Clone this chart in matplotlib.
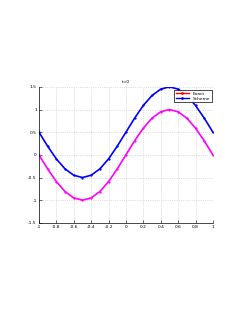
import matplotlib

matplotlib.use("Agg")
import matplotlib.pyplot as plt
import numpy as np

x = [-1.0, -0.9, -0.8, -0.7, -0.6, -0.5, -0.4, -0.3, -0.2, -0.1, 0.0,
     0.1, 0.2, 0.3, 0.4, 0.5, 0.6, 0.7, 0.8, 0.9, 1.0]
exact = [0.0, -0.31, -0.59, -0.81, -0.95, -1.0, -0.95, -0.81, -0.59, -0.31, 0.0,
         0.31, 0.59, 0.81, 0.95, 1.0, 0.95, 0.81, 0.59, 0.31, 0.0]
scheme = [0.5, 0.19, -0.09, -0.31, -0.45, -0.5, -0.45, -0.31, -0.09, 0.19, 0.5,
          0.81, 1.09, 1.31, 1.45, 1.5, 1.45, 1.31, 1.09, 0.81, 0.5]
xticks = [-1, -0.8, -0.6, -0.4, -0.2, 0, 0.2, 0.4, 0.6, 0.8, 1]
xticklabels = ["-1", "-0.8", "-0.6", "-0.4", "-0.2", "0", "0.2", "0.4", "0.6", "0.8", "1"]
yticks = [-1.5, -1, -0.5, 0, 0.5, 1, 1.5]
yticklabels = ["-1.5", "-1", "-0.5", "0", "0.5", "1", "1.5"]

fig = plt.figure(figsize=(2.45, 3.17), dpi=100)
ax = fig.add_axes([0.159, 0.297, 0.710, 0.429])

ax.plot(x, exact, color="#ff00ff", linewidth=1.2, marker=".", markersize=1.3)
ax.plot(x, scheme, color="#0000ff", linewidth=1.2, marker=".", markersize=1.3)

# legend handles use red for the exact curve, as in the source figure
h1, = ax.plot([], [], color="red", linewidth=1.0, marker=".", markersize=2, label="Exact")
h2, = ax.plot([], [], color="blue", linewidth=1.0, marker=".", markersize=2, label="Scheme")
leg = ax.legend(handles=[h1, h2], loc="upper right", fontsize=3.2, fancybox=False,
                framealpha=1, edgecolor="black", handlelength=3, borderpad=0.3,
                labelspacing=0.2, bbox_to_anchor=(1.005, 0.99))
leg.get_frame().set_linewidth(0.5)

ax.set_xlim(-1, 1)
ax.set_ylim(-1.5, 1.5)
ax.set_xticks(xticks)
ax.set_xticklabels(xticklabels)
ax.set_yticks(yticks)
ax.set_yticklabels(yticklabels)
ax.tick_params(direction="in", length=2, width=0.4, labelsize=3.2, pad=1.5)
ax.grid(True, linestyle=":", color="#c0c0c0", linewidth=0.5)
ax.spines["top"].set_visible(False)
ax.spines["right"].set_visible(False)
for s in ("left", "bottom"):
    ax.spines[s].set_linewidth(0.5)
ax.set_title("t=0", fontsize=3.2, pad=3)

fig.savefig("out.png", dpi=100)
